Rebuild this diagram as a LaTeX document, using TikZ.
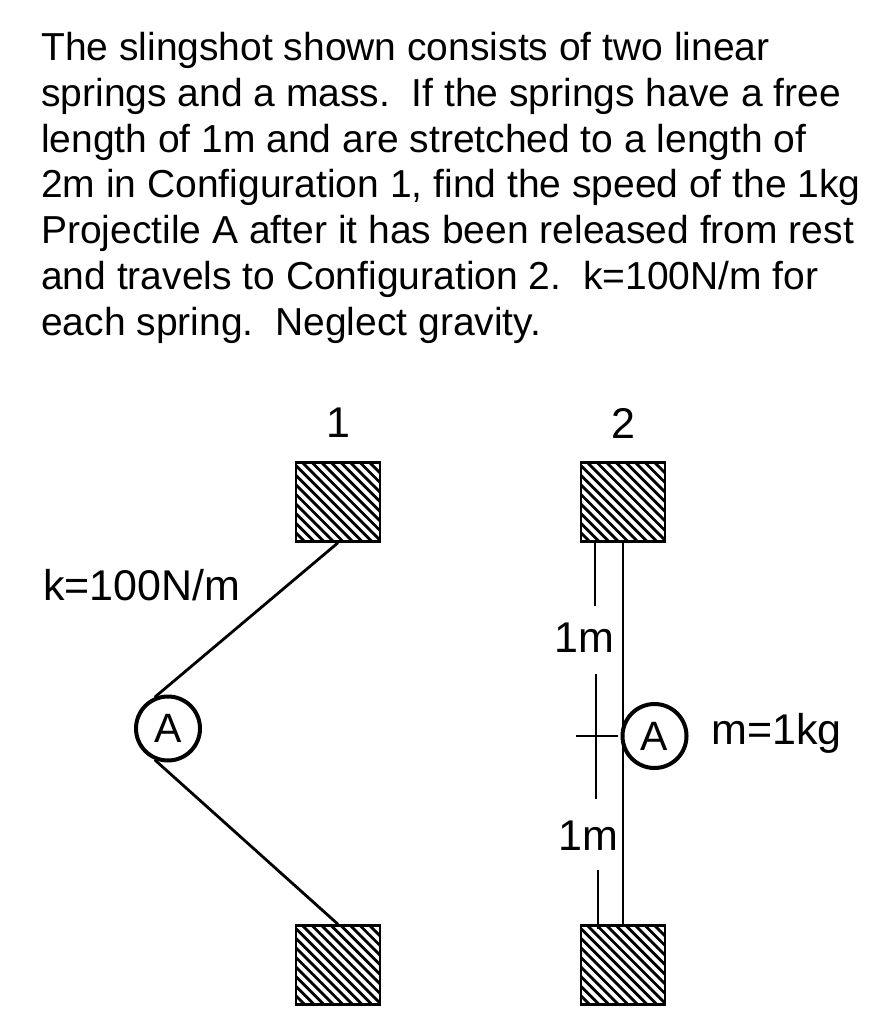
\documentclass[tikz,border=0pt]{standalone}
\usepackage{fontspec}
\setmainfont{Liberation Sans}
\tikzset{
  wall/.style={draw,line width=2.5pt,minimum width=84pt,minimum height=79pt,inner sep=0pt,
    path picture={\foreach \d in {-80,-70.4,...,90}
      {\draw[line width=2.8pt] ([xshift=\d pt]path picture bounding box.north west) -- ++(90pt,-90pt);}}},
  mass/.style={draw,circle,line width=4pt,minimum size=64pt,inner sep=0pt,font=\fontsize{41}{41}\selectfont},
  spring/.style={line width=2.8pt},
  dim/.style={line width=2pt},
  lab/.style={inner sep=0pt,font=\fontsize{43}{43}\selectfont}
}
\begin{document}
\begin{tikzpicture}[x=1pt,y=-1pt]
\useasboundingbox (0,0) rectangle (891,1024);
\node[anchor=north west,inner sep=0pt,align=left,font=\fontsize{39}{45.8}\selectfont] (problem) at (41,32)
{The slingshot shown consists of two linear\\
springs and a mass.~~If the springs have a free\\
length of 1m and are stretched to a length of\\
2m in Configuration 1, find the speed of the 1kg\\
Projectile A after it has been released from rest\\
and travels to Configuration 2.~~k=100N/m for\\
each spring.~~Neglect gravity.};
% configuration 1
\node[wall] (top1) at (338,502) {};
\node[wall] (bot1) at (338,965) {};
\node[mass] (massA) at (168,728.5) {A};
\node[lab] (num1) at (338,423) {1};
\node[lab,anchor=base west] (klabel) at (43,600) {k=100N/m};
\draw[spring] (top1.south) -- (massA.113);
\draw[spring] (massA.247) -- (bot1.north);
% configuration 2
\node[wall] (top2) at (623,502) {};
\node[wall] (bot2) at (623,965) {};
\node[mass] (massB) at (654.5,736) {A};
\node[lab] (num2) at (623,423) {2};
\node[lab,anchor=base west] (mlabel) at (711,744.5) {m=1kg};
\node[lab] (dimup) at (584,638) {1m};
\node[lab] (dimlow) at (588,836) {1m};
\draw[spring] (top2.south) -- (bot2.north);
\coordinate (a1) at (595,606);
\coordinate (a2) at (596,674);
\coordinate (a3) at (596,799);
\coordinate (a4) at (598,870);
\coordinate (a5) at (598,929);
\coordinate (t1) at (576,736);
\coordinate (t2) at (618,736);
\draw[dim] (top2.south -| a1) -- (a1);
\draw[dim] (a2) -- (a3);
\draw[dim] (a4) -- (a5);
\draw[dim] (t1) -- (t2);
\end{tikzpicture}
\end{document}
